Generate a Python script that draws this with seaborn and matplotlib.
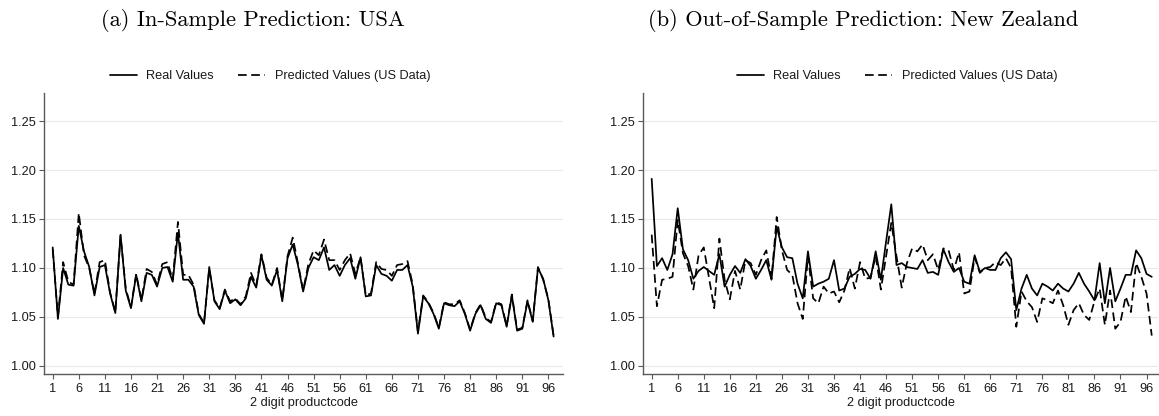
import numpy as np
import pandas as pd
import matplotlib
matplotlib.use("Agg")
import matplotlib.pyplot as plt
from matplotlib.lines import Line2D
import seaborn as sns

# 2-digit product codes
codes = list(range(1, 98))

# USA: observed values and in-sample predictions
usa_real = [
    1.121, 1.048, 1.100, 1.083, 1.082, 1.143, 1.117, 1.101, 1.072, 1.101,
    1.103, 1.074, 1.054, 1.134, 1.077, 1.059, 1.093, 1.066, 1.095, 1.093,
    1.081, 1.100, 1.101, 1.086, 1.136, 1.088, 1.088, 1.081, 1.052, 1.043,
    1.101, 1.066, 1.058, 1.077, 1.064, 1.068, 1.062, 1.069, 1.091, 1.080,
    1.113, 1.088, 1.082, 1.098, 1.066, 1.110, 1.124, 1.103, 1.076, 1.100,
    1.111, 1.108, 1.121, 1.098, 1.103, 1.092, 1.103, 1.110, 1.089, 1.111,
    1.071, 1.072, 1.103, 1.094, 1.092, 1.087, 1.098, 1.098, 1.103, 1.081,
    1.033, 1.071, 1.064, 1.053, 1.038, 1.064, 1.062, 1.061, 1.066, 1.053,
    1.036, 1.053, 1.062, 1.048, 1.044, 1.064, 1.062, 1.040, 1.072, 1.036,
    1.038, 1.066, 1.045, 1.100, 1.089, 1.067, 1.030,
]
usa_pred = [
    1.119, 1.050, 1.106, 1.086, 1.083, 1.156, 1.113, 1.100, 1.074, 1.106,
    1.108, 1.075, 1.055, 1.133, 1.079, 1.060, 1.094, 1.067, 1.099, 1.096,
    1.083, 1.104, 1.106, 1.088, 1.147, 1.093, 1.093, 1.083, 1.053, 1.044,
    1.099, 1.067, 1.059, 1.078, 1.066, 1.069, 1.063, 1.071, 1.095, 1.082,
    1.114, 1.090, 1.083, 1.100, 1.067, 1.112, 1.131, 1.105, 1.077, 1.104,
    1.118, 1.113, 1.129, 1.108, 1.108, 1.098, 1.108, 1.115, 1.094, 1.111,
    1.072, 1.074, 1.106, 1.099, 1.098, 1.092, 1.103, 1.104, 1.107, 1.083,
    1.035, 1.072, 1.065, 1.054, 1.039, 1.065, 1.063, 1.063, 1.067, 1.054,
    1.037, 1.054, 1.063, 1.049, 1.045, 1.065, 1.063, 1.041, 1.073, 1.037,
    1.039, 1.067, 1.046, 1.101, 1.088, 1.068, 1.031,
]

# New Zealand: observed values and predictions from the US model
nz_real = [
    1.191, 1.102, 1.110, 1.098, 1.114, 1.161, 1.119, 1.108, 1.089, 1.097,
    1.101, 1.097, 1.093, 1.114, 1.081, 1.093, 1.102, 1.095, 1.109, 1.102,
    1.089, 1.098, 1.108, 1.088, 1.142, 1.121, 1.111, 1.110, 1.084, 1.069,
    1.117, 1.081, 1.084, 1.086, 1.089, 1.108, 1.077, 1.079, 1.091, 1.094,
    1.099, 1.098, 1.089, 1.117, 1.088, 1.127, 1.165, 1.103, 1.105, 1.101,
    1.100, 1.099, 1.108, 1.095, 1.096, 1.093, 1.119, 1.106, 1.096, 1.100,
    1.086, 1.084, 1.113, 1.096, 1.100, 1.098, 1.098, 1.110, 1.116, 1.109,
    1.057, 1.079, 1.093, 1.079, 1.072, 1.084, 1.081, 1.077, 1.084, 1.079,
    1.076, 1.084, 1.095, 1.084, 1.076, 1.067, 1.105, 1.064, 1.100, 1.066,
    1.079, 1.093, 1.093, 1.118, 1.110, 1.094, 1.091,
]
nz_pred = [
    1.134, 1.061, 1.088, 1.089, 1.091, 1.149, 1.115, 1.102, 1.078, 1.113,
    1.121, 1.090, 1.059, 1.130, 1.088, 1.068, 1.097, 1.078, 1.108, 1.105,
    1.093, 1.108, 1.118, 1.089, 1.152, 1.118, 1.098, 1.093, 1.064, 1.048,
    1.112, 1.069, 1.064, 1.081, 1.074, 1.076, 1.065, 1.077, 1.100, 1.079,
    1.106, 1.089, 1.090, 1.112, 1.078, 1.112, 1.146, 1.112, 1.080, 1.105,
    1.120, 1.117, 1.124, 1.108, 1.114, 1.098, 1.120, 1.118, 1.098, 1.116,
    1.074, 1.076, 1.111, 1.095, 1.100, 1.101, 1.106, 1.103, 1.110, 1.100,
    1.040, 1.076, 1.066, 1.060, 1.045, 1.069, 1.067, 1.064, 1.077, 1.062,
    1.042, 1.057, 1.064, 1.052, 1.047, 1.066, 1.079, 1.042, 1.077, 1.038,
    1.045, 1.071, 1.055, 1.105, 1.091, 1.074, 1.031,
]

series_labels = ["Real Values", "Predicted Values (US Data)"]
titles = ["(a) In-Sample Prediction: USA",
          "(b) Out-of-Sample Prediction: New Zealand"]
y_ticks = [1.00, 1.05, 1.10, 1.15, 1.20, 1.25]
x_ticks = list(range(1, 97, 5))
x_label = "2 digit productcode"

sns.set_theme(style="white")
plt.rcParams["font.family"] = ["Liberation Sans", "DejaVu Sans"]

W, H = 1159, 416
fig = plt.figure(figsize=(W / 100, H / 100), dpi=100)

panels = [
    dict(real=usa_real, pred=usa_pred, left=44.3, right=563.0,
         xlim=(-0.61, 98.8), legend_cx=270, title_cx=253),
    dict(real=nz_real, pred=nz_pred, left=643.3, right=1158.0,
         xlim=(-0.61, 98.2), legend_cx=897, title_cx=863),
]

ax_top, ax_bottom = 93, 374
line_w = 1.25
dash_style = {series_labels[0]: "", series_labels[1]: (5.0, 2.6)}

for panel, title in zip(panels, titles):
    ax = fig.add_axes([panel["left"] / W, 1 - ax_bottom / H,
                       (panel["right"] - panel["left"]) / W,
                       (ax_bottom - ax_top) / H])
    df = pd.DataFrame({
        "code": codes * 2,
        "value": panel["real"] + panel["pred"],
        "series": [series_labels[0]] * len(codes) + [series_labels[1]] * len(codes),
    })
    sns.lineplot(data=df, x="code", y="value", style="series",
                 style_order=series_labels, dashes=dash_style,
                 color="black", linewidth=line_w, legend=False, ax=ax)

    ax.set_xlim(*panel["xlim"])
    ax.set_ylim(0.9918, 1.2786)
    ax.set_yticks(y_ticks)
    ax.set_yticklabels([f"{v:.2f}" for v in y_ticks])
    ax.set_xticks(x_ticks)
    ax.set_xticklabels([str(v) for v in x_ticks])
    ax.yaxis.grid(True, color="#e9e9e9", linewidth=0.8)
    ax.xaxis.grid(False)
    ax.set_axisbelow(True)
    for side in ("top", "right"):
        ax.spines[side].set_visible(False)
    for side in ("left", "bottom"):
        ax.spines[side].set_color("#5a5a5a")
        ax.spines[side].set_linewidth(1.0)
    ax.tick_params(axis="both", which="major", direction="out", length=3.8,
                   width=0.8, color="#5a5a5a", labelsize=9.2,
                   labelcolor="#1a1a1a", pad=2.5)
    ax.tick_params(axis="x", bottom=True)
    ax.tick_params(axis="y", left=True)
    ax.set_ylabel("")
    ax.set_xlabel(x_label, fontsize=9.2, color="#1a1a1a", labelpad=1.5)

    handles = [Line2D([], [], color="black", linewidth=line_w),
               Line2D([], [], color="black", linewidth=line_w,
                      dashes=(5.0, 2.6))]
    ax.legend(handles, series_labels, loc="center",
              bbox_to_anchor=(panel["legend_cx"] / W, 1 - 76 / H),
              bbox_transform=fig.transFigure, ncol=2, frameon=False,
              fontsize=9.2, handlelength=2.1, handletextpad=0.75,
              columnspacing=1.9, labelcolor="#1a1a1a")

    fig.text(panel["title_cx"] / W, 1 - 21 / H, title, ha="center",
             va="center", fontsize=16.2, family="cmr10", color="black")

fig.savefig("out.png", dpi=100)
